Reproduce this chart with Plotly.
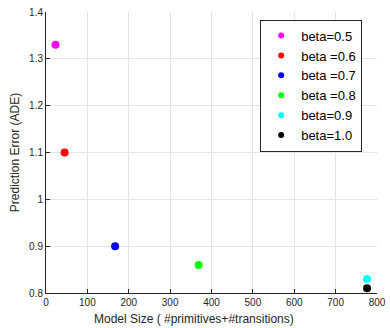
import plotly.graph_objects as go

labels = ["beta=0.5", "beta =0.6", "beta =0.7", "beta =0.8", "beta=0.9", "beta=1.0"]
model_size = [23, 45, 167, 369, 776, 776]
ade = [1.33, 1.10, 0.90, 0.86, 0.83, 0.81]
colors = ["#ff00ff", "#ff0000", "#0000ff", "#00ff00", "#00ffff", "#000000"]

x_ticks = [0, 100, 200, 300, 400, 500, 600, 700, 800]
y_ticks = [0.8, 0.9, 1.0, 1.1, 1.2, 1.3, 1.4]
y_tick_text = ["0.8", "0.9", "1", "1.1", "1.2", "1.3", "1.4"]

fig = go.Figure()
for lab, xs, ys, c in zip(labels, model_size, ade, colors):
    fig.add_trace(go.Scatter(x=[xs], y=[ys], mode="markers", name=lab,
                             legendgroup=lab, showlegend=False,
                             marker=dict(color=c, size=8, line=dict(width=0))))
    fig.add_trace(go.Scatter(x=[None], y=[None], mode="markers", name=lab,
                             legendgroup=lab, showlegend=True,
                             marker=dict(color=c, size=6, line=dict(width=0))))

axis_common = dict(showline=True, linecolor="#262626", linewidth=1,
                   ticks="inside", ticklen=4, tickcolor="#262626",
                   showgrid=True, gridcolor="#e3e3e3", gridwidth=1,
                   zeroline=False, mirror=False,
                   tickfont=dict(size=10, color="#262626"))

fig.update_layout(
    width=390, height=328,
    margin=dict(l=46, r=4, t=12, b=35),
    paper_bgcolor="white", plot_bgcolor="white",
    font=dict(family="Liberation Sans, Arial, sans-serif", color="#262626"),
    xaxis=dict(range=[0, 800], tickvals=x_ticks, ticklabeloverflow="allow",
               **axis_common),
    yaxis=dict(range=[0.8, 1.4], tickvals=y_ticks, ticktext=y_tick_text,
               title=dict(text="Prediction Error (ADE)", font=dict(size=12), standoff=6),
               **axis_common),
    legend=dict(x=0.647, y=0.973, xanchor="left", yanchor="top",
                bordercolor="#262626", borderwidth=1, bgcolor="white",
                font=dict(size=13, color="#000000"),
                tracegroupgap=0),
    showlegend=True,
    annotations=[dict(text="Model Size ( #primitives+#transitions)",
                      xref="paper", yref="paper", x=0.4485, y=0,
                      xanchor="center", yanchor="top", yshift=-17,
                      showarrow=False, font=dict(size=12, color="#262626"))],
)

fig.write_html("out.html")
